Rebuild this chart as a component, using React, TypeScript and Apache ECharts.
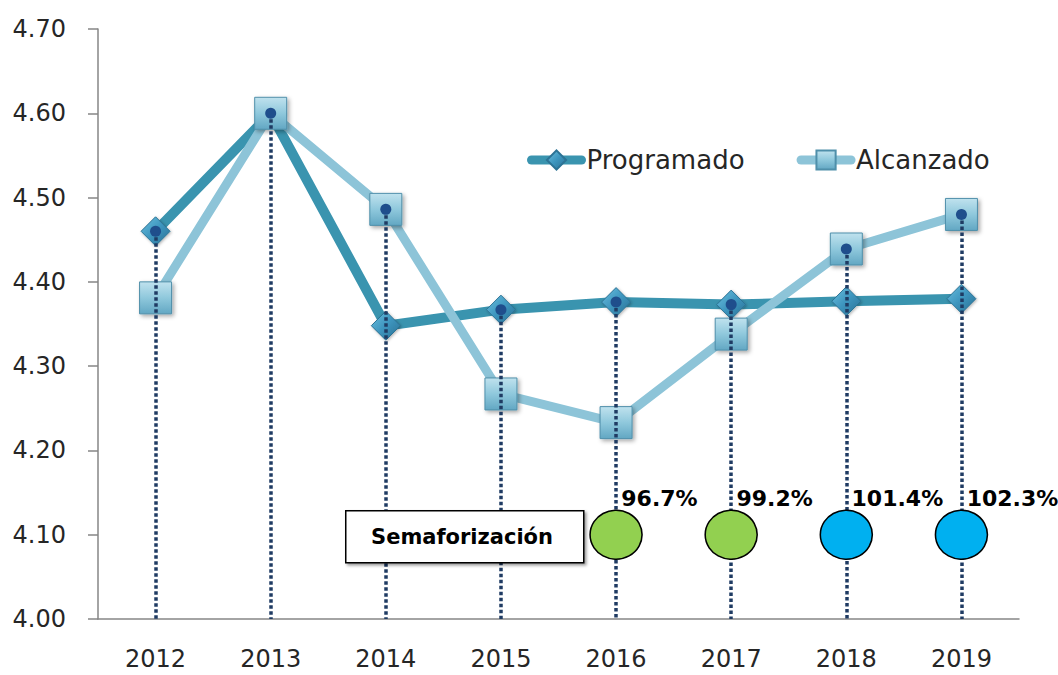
import React, { useEffect, useRef } from "react";
import * as echarts from "echarts";

const categories = ["2012", "2013", "2014", "2015", "2016", "2017", "2018", "2019"];
const programado = [4.46, 4.6, 4.348, 4.367, 4.376, 4.373, 4.377, 4.38];
const alcanzado = [4.381, 4.6, 4.486, 4.267, 4.233, 4.338, 4.439, 4.48];
const yMin = 4.0;
const yMax = 4.7;
const yInterval = 0.1;
const semaforoYears = ["2016", "2017", "2018", "2019"];
const semaforoPct = [96.7, 99.2, 101.4, 102.3];
const semaforoLevel = 4.1;
const semaforoTitle = "Semaforización";

const FONT = "DejaVu Sans";

export default function App() {
  const ref = useRef<HTMLDivElement>(null);
  useEffect(() => {
    if (!ref.current) return;
    const chart = echarts.init(ref.current, null, { renderer: "svg" });
    const dropTops = categories.map((c, i) => Math.max(programado[i], alcanzado[i]));
    const option = {
      animation: false,
      backgroundColor: "#ffffff",
      grid: { left: 98, right: 39, top: 29, bottom: 56 },
      legend: {
        left: 522,
        top: 142,
        itemWidth: 50,
        itemHeight: 24,
        itemGap: 52,
        data: ["Programado", "Alcanzado"],
        lineStyle: { width: 9, cap: "round" },
        textStyle: { fontSize: 26, color: "#262626", fontFamily: FONT },
      },
      xAxis: {
        type: "category",
        data: categories,
        boundaryGap: true,
        axisLine: { lineStyle: { color: "#868686", width: 1.5 } },
        axisTick: { show: false },
        axisLabel: { fontSize: 24, color: "#262626", fontFamily: FONT, margin: 28 },
        splitLine: { show: false },
      },
      yAxis: {
        type: "value",
        min: yMin,
        max: yMax,
        interval: yInterval,
        axisLine: { show: true, lineStyle: { color: "#868686", width: 1.5 } },
        axisTick: { show: true, length: 10, lineStyle: { color: "#868686", width: 1.5 } },
        axisLabel: {
          fontSize: 24,
          color: "#262626",
          fontFamily: FONT,
          margin: 32,
          formatter: (v: number) => v.toFixed(2),
        },
        splitLine: { show: false },
      },
      series: [
        {
          name: "Programado",
          type: "line",
          data: programado,
          z: 2,
          symbol: "diamond",
          symbolSize: 29,
          lineStyle: { color: "#3A94AF", width: 10 },
          itemStyle: {
            color: new echarts.graphic.LinearGradient(0, 0, 1, 1, [
              { offset: 0, color: "#6CC0DF" },
              { offset: 0.5, color: "#3D95BE" },
              { offset: 1, color: "#2A6F92" },
            ]),
            borderColor: "#2C7395",
            borderWidth: 1,
            shadowBlur: 3,
            shadowColor: "rgba(0,0,0,0.3)",
            shadowOffsetX: 1,
            shadowOffsetY: 1,
          },
        },
        {
          name: "Alcanzado",
          type: "line",
          data: alcanzado,
          z: 3,
          symbol: "rect",
          symbolSize: 32,
          lineStyle: { color: "#8DC4D8", width: 9 },
          itemStyle: {
            color: new echarts.graphic.LinearGradient(0, 0, 0, 1, [
              { offset: 0, color: "#C0E2EE" },
              { offset: 0.5, color: "#8FC8DC" },
              { offset: 1, color: "#62A7C3" },
            ]),
            borderColor: "#4F8FAA",
            borderWidth: 1,
            shadowBlur: 4,
            shadowColor: "rgba(0,0,0,0.35)",
            shadowOffsetX: 2,
            shadowOffsetY: 2,
          },
        },
        {
          name: "drop",
          type: "line",
          data: dropTops,
          z: 5,
          symbol: "circle",
          symbolSize: 11,
          lineStyle: { width: 0, opacity: 0 },
          itemStyle: { color: "#1F4E8C" },
          silent: true,
          markLine: {
            silent: true,
            symbol: ["none", "none"],
            label: { show: false },
            lineStyle: { color: "#1F3B63", width: 3.5, type: [3.5, 2.5], opacity: 1 },
            data: categories.map((c, i) => [
              { coord: [c, dropTops[i]] },
              { coord: [c, yMin] },
            ]),
          },
        },
        {
          name: "semaforo",
          type: "scatter",
          z: 6,
          symbol: "circle",
          symbolSize: [52, 49],
          data: semaforoYears.map((y, i) => ({
            value: [y, semaforoLevel, semaforoPct[i]],
            itemStyle: { color: semaforoPct[i] < 100 ? "#92D050" : "#00B0F0" },
          })),
          itemStyle: { borderColor: "#000000", borderWidth: 1.5, opacity: 1 },
          label: {
            show: true,
            position: [32, -11],
            align: "left",
            verticalAlign: "middle",
            fontSize: 22,
            fontWeight: "bold",
            fontFamily: FONT,
            color: "#000000",
            formatter: (p: any) => p.value[2].toFixed(1) + "%",
          },
        },
      ],
      graphic: [
        {
          type: "rect",
          left: 345,
          top: 510,
          z: 10,
          shape: { width: 238, height: 52 },
          style: {
            fill: "#ffffff",
            stroke: "#000000",
            lineWidth: 1.5,
            shadowBlur: 3,
            shadowOffsetX: 2,
            shadowOffsetY: 2,
            shadowColor: "rgba(0,0,0,0.4)",
          },
        },
        {
          type: "text",
          x: 462,
          y: 537,
          z: 11,
          style: {
            text: semaforoTitle,
            font: `bold 21px ${FONT}`,
            fill: "#000000",
            textAlign: "center",
            textVerticalAlign: "middle",
          },
        },
      ],
    };
    chart.setOption(option as any);
    return () => chart.dispose();
  }, []);
  return (
    <div
      ref={ref}
      style={{ position: "fixed", left: 0, top: 0, width: 1058, height: 675, background: "#fff" }}
    />
  );
}
